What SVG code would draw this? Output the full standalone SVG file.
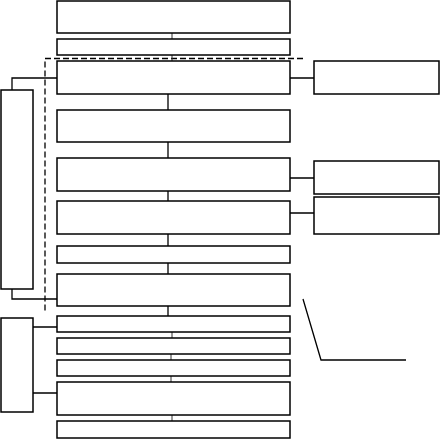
<svg xmlns="http://www.w3.org/2000/svg" width="440" height="439" viewBox="0 0 440 439">
<style>
.b{fill:#fff;stroke:#000;stroke-width:1.5}
.c{fill:none;stroke:#000;stroke-width:1.3}
.t{fill:none;stroke:#333;stroke-width:1}
.d{fill:none;stroke:#000;stroke-width:1.3;stroke-dasharray:6,3}
</style>
<rect width="440" height="439" fill="#fff"/>
<g id="connectors">
<path class="d" d="M303,58.5H45V312"/>
<path class="t" d="M172,33V39M172,55V61M172,332V338M171,354V360M171,376V382M172,415V421"/>
<path class="c" d="M168,94V110M168,142V158M168,191V201M168,234V246M168,263V274M168,306V316"/>
<path class="c" d="M57,78H12V90M12,289V299H57M290,78H314M290,178H314M290,213H314M33,327H57M33,393H57M303,299L321,360H406"/>
</g>
<g id="n1"><rect class="b" x="57" y="1" width="233" height="32"/></g>
<g id="n2"><rect class="b" x="57" y="39" width="233" height="16"/></g>
<g id="n3"><rect class="b" x="57" y="61" width="233" height="33"/></g>
<g id="n4"><rect class="b" x="57" y="110" width="233" height="32"/></g>
<g id="n5"><rect class="b" x="57" y="158" width="233" height="33"/></g>
<g id="n6"><rect class="b" x="57" y="201" width="233" height="33"/></g>
<g id="n7"><rect class="b" x="57" y="246" width="233" height="17"/></g>
<g id="n8"><rect class="b" x="57" y="274" width="233" height="32"/></g>
<g id="n9"><rect class="b" x="57" y="316" width="233" height="16"/></g>
<g id="n10"><rect class="b" x="57" y="338" width="233" height="16"/></g>
<g id="n11"><rect class="b" x="57" y="360" width="233" height="16"/></g>
<g id="n12"><rect class="b" x="57" y="382" width="233" height="33"/></g>
<g id="n13"><rect class="b" x="57" y="421" width="233" height="17"/></g>
<g id="r1"><rect class="b" x="314" y="61" width="125" height="33"/></g>
<g id="r2"><rect class="b" x="314" y="161" width="125" height="33"/></g>
<g id="r3"><rect class="b" x="314" y="197" width="125" height="37"/></g>
<g id="l1"><rect class="b" x="1" y="90" width="32" height="199"/></g>
<g id="l2"><rect class="b" x="1" y="318" width="32" height="94"/></g>
</svg>
